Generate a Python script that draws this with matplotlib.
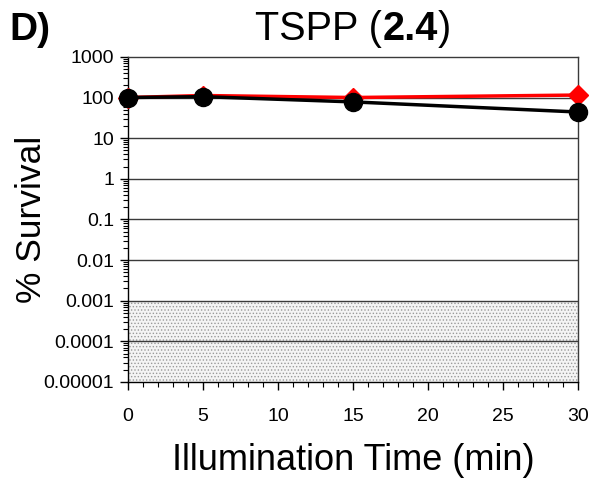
import matplotlib
matplotlib.use("Agg")
import matplotlib.pyplot as plt
from matplotlib.ticker import FixedLocator, LogLocator, MultipleLocator, NullFormatter

plt.rcParams['font.family'] = ['Liberation Sans', 'DejaVu Sans']
plt.rcParams['hatch.linewidth'] = 0.6

# illumination times and survival fractions
times = [0, 5, 15, 30]
dark_survival = [100, 112, 100, 115]
light_survival = [100, 105, 78, 44]

y_ticks = [1e-5, 1e-4, 1e-3, 1e-2, 1e-1, 1, 10, 100, 1000]
y_labels = ["0.00001", "0.0001", "0.001", "0.01", "0.1", "1", "10", "100", "1000"]
x_ticks = [0, 5, 10, 15, 20, 25, 30]

# detection limit band
limit_low = 1e-5
limit_high = 1e-3

fig = plt.figure(figsize=(5.94, 4.78), dpi=100)
ax = fig.add_axes([0.2155, 0.201, 0.7575, 0.680])

ax.set_yscale('log')
ax.set_xlim(0, 30)
ax.set_ylim(1e-5, 1e3)

ax.axhspan(limit_low, limit_high, facecolor='#f4f4f4', edgecolor='#9a9a9a',
           hatch='.....', linewidth=0, zorder=0)

for t in y_ticks[1:-1]:
    ax.axhline(t, color='#3a3a3a', linewidth=1.0, zorder=1)

ax.plot(times, dark_survival, color='#ff0000', linewidth=2.5, marker='D',
        markersize=10, markerfacecolor='#ff0000', markeredgecolor='#ff0000',
        zorder=3, clip_on=False)
ax.plot(times, light_survival, color='black', linewidth=2.5, marker='o',
        markersize=13, markerfacecolor='black', markeredgecolor='black',
        zorder=4, clip_on=False)

ax.yaxis.set_major_locator(FixedLocator(y_ticks))
ax.set_yticklabels(y_labels)
ax.yaxis.set_minor_locator(LogLocator(base=10, subs=range(2, 10), numticks=20))
ax.yaxis.set_minor_formatter(NullFormatter())
ax.set_xticks(x_ticks)
ax.xaxis.set_minor_locator(MultipleLocator(1))

ax.tick_params(axis='both', which='major', direction='out', length=6,
               width=1.0, labelsize=14, colors='black')
ax.tick_params(axis='both', which='minor', direction='out', length=3.5,
               width=0.8)
ax.tick_params(axis='x', pad=13)
ax.tick_params(axis='y', pad=4)

for spine in ax.spines.values():
    spine.set_color('black')
    spine.set_linewidth(1.0)
ax.spines['top'].set_color('#3a3a3a')
ax.spines['right'].set_color('#3a3a3a')

ax.set_ylabel('% Survival', fontsize=25.5, labelpad=-3)
ax.set_xlabel('Illumination Time (min)', fontsize=26, labelpad=13)

# title in three pieces, with the compound number in bold
title_parts = [('TSPP (', 'normal'), ('2.4', 'bold'), (')', 'normal')]
fig.canvas.draw()
renderer = fig.canvas.get_renderer()
pieces = []
total = 0
for s, w in title_parts:
    t = fig.text(0, 0.939, s, fontsize=28.5, fontweight=w, ha='left',
                 va='center')
    width = t.get_window_extent(renderer).width
    pieces.append((t, width))
    total += width
x = 353 - total / 2
for t, width in pieces:
    t.set_x(x / fig.bbox.width)
    x += width

fig.text(0.015, 0.937, 'D)', fontsize=28, fontweight='bold', ha='left',
         va='center')

fig.savefig('out.png', dpi=100)
